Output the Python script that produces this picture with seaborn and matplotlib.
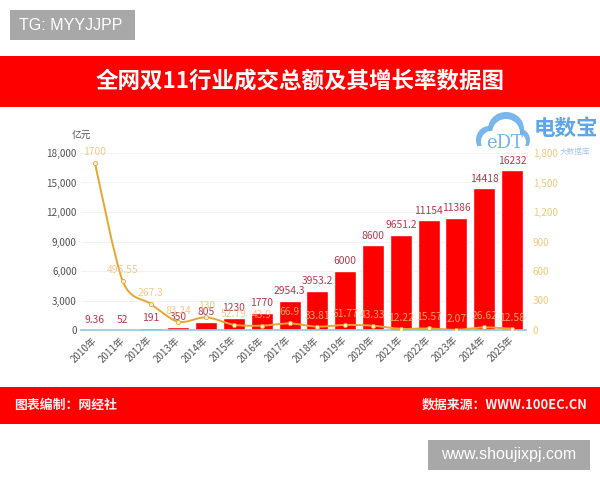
import numpy as np
import pandas as pd
import seaborn as sns
import matplotlib
matplotlib.use("Agg")
import matplotlib.pyplot as plt
from matplotlib.path import Path
from matplotlib.patches import PathPatch, Rectangle, Ellipse
from matplotlib.transforms import ScaledTranslation

years = ["2010年","2011年","2012年","2013年","2014年","2015年","2016年","2017年",
         "2018年","2019年","2020年","2021年","2022年","2023年","2024年","2025年"]
sales = [9.36,52,191,350,805,1230,1770,2954.3,3953.2,6000,8600,9651.2,11154,11386,14418,16232]
sales_labels = ["9.36","52","191","350","805","1230","1770","2954.3","3953.2","6000","8600","9651.2","11154","11386","14418","16232"]
growth = [1700,496.55,267.3,83.24,130,52.79,43.9,66.9,33.81,51.77,43.33,12.22,15.57,2.07,26.62,12.58]
growth_labels = ["1700","496.55","267.3","83.24","130","52.79","43.9","66.9","33.81","51.77","43.33","12.22","15.57","2.07","26.62","12.58"]
left_ticks = [0,3000,6000,9000,12000,15000,18000]
right_ticks = [0,300,600,900,1200,1500,1800]

sns.set_theme(style="white")
plt.rcParams['font.family'] = ['Noto Sans CJK SC', 'DejaVu Sans']
RED = "#FF0000"
fig = plt.figure(figsize=(6,4.8), dpi=100, facecolor="white")

# page furniture in pixel coordinates
bg = fig.add_axes([0,0,1,1]); bg.set_xlim(0,600); bg.set_ylim(480,0); bg.axis("off")
bg.add_patch(Rectangle((0,56),600,51,color=RED,lw=0))
bg.add_patch(Rectangle((0,387),600,37,color=RED,lw=0))
bg.add_patch(Rectangle((10,10),125,30,color="#A8A8A8",lw=0))
bg.add_patch(Rectangle((428,440),162,30,color="#A8A8A8",lw=0))
bg.text(19,25,"TG: MYYJJPP",color="white",fontsize=11.5,va="center",family="Liberation Sans")
bg.text(509,455,"www.shoujixpj.com",color="white",fontsize=11.5,va="center",ha="center",family="Liberation Sans")
bg.text(300.5,81,"全网双11行业成交总额及其增长率数据图",color="white",fontsize=16.2,fontweight="bold",ha="center",va="center")
bg.text(14,405,"图表编制\uff1a网经社",color="#FFF2F2",fontsize=9.3,fontweight="bold",va="center")
bg.text(588,405,"数据来源\uff1aWWW.100EC.CN",color="#FFF2F2",fontsize=9.3,fontweight="bold",va="center",ha="right")

# logo
BLUE = "#72B2EA"
for xy,w,h in [((489,140),26,28),((506,129),36,34),((520,140),20,22)]:
    bg.add_patch(Ellipse(xy,w,h,color=BLUE,lw=0,alpha=.95))
for xy,w,h in [((491,142),20,22),((506,133),28,28),((519,142),14,16)]:
    bg.add_patch(Ellipse(xy,w,h,color="white",lw=0))
bg.add_patch(Rectangle((478,146),52,9,color="white",lw=0))
bg.text(505,143,"eDT",color=BLUE,fontsize=13,ha="center",va="center",family="DejaVu Serif")
bg.text(534,128,"电数宝",color="#5FA6E8",fontsize=15.5,va="center",fontweight="bold")
bg.text(560,152,"大数据库",color="#A9C7E6",fontsize=5.5,va="center",ha="left")

# chart
ax = fig.add_axes([81/600,1-330/480,445/600,177/480]); ax.patch.set_alpha(0)
df = pd.DataFrame({"year":years,"sales":sales,"growth":growth})
sns.barplot(data=df,x="year",y="sales",color=RED,saturation=1,width=0.79,ax=ax,zorder=2)
ax.set_xlim(-0.5,15.5); ax.set_ylim(0,18000)
ax.set_yticks(left_ticks); ax.set_yticklabels([f"{v:,}" for v in left_ticks],fontsize=7.2,color="#555555")
ax.set_xticks(range(16)); ax.set_xticklabels(years,fontsize=7,color="#555555",rotation=45,ha="right",va="center",rotation_mode="anchor")
shift = ScaledTranslation(-2/72,0,fig.dpi_scale_trans)
for lab in ax.get_xticklabels():
    lab.set_transform(lab.get_transform()+shift)
ax.set_xlabel(""); ax.set_ylabel("")
ax.tick_params(axis="y",length=0,pad=3)
ax.tick_params(axis="x",length=0,pad=6)
ax.grid(axis="y",color="#F2F2F2",lw=.8); ax.set_axisbelow(True)
for s in ["top","right","left"]: ax.spines[s].set_visible(False)
ax.spines["bottom"].set_color("#8CC8E8"); ax.spines["bottom"].set_linewidth(1.2)
for i,(v,t) in enumerate(zip(sales,sales_labels)):
    ax.annotate(t,(i,v),xytext=(0,7),textcoords="offset points",ha="center",va="center",fontsize=7.4,color="#B23A50",zorder=5)

ax2 = ax.twinx(); ax2.patch.set_alpha(0)
ax2.set_ylim(0,1800); ax2.set_yticks(right_ticks)
ax2.set_yticklabels([f"{v:,}" for v in right_ticks],fontsize=7.2,color="#EBCB7A")
ax2.tick_params(axis="y",length=0,pad=5); ax2.grid(False)
for s in ax2.spines.values(): s.set_visible(False)

# smooth curve through the data values (rendered as Bezier segments)
xs = np.arange(len(growth),dtype=float); ys = np.array(growth,dtype=float)
k = 0.14
verts=[(xs[0],ys[0])]; codes=[Path.MOVETO]
for i in range(len(xs)-1):
    p0=np.array([xs[max(i-1,0)],ys[max(i-1,0)]]); p1=np.array([xs[i],ys[i]])
    p2=np.array([xs[i+1],ys[i+1]]); p3=np.array([xs[min(i+2,len(xs)-1)],ys[min(i+2,len(xs)-1)]])
    verts += [tuple(p1+(p2-p0)*k),tuple(p2-(p3-p1)*k),tuple(p2)]
    codes += [Path.CURVE4]*3
ax2.add_patch(PathPatch(Path(verts,codes),fill=False,edgecolor="#E8A52F",lw=1.4,zorder=4))
sns.lineplot(x=xs,y=ys,sort=False,lw=0,marker="o",markersize=3,markerfacecolor="#FFF3DC",
             markeredgecolor="#E8A52F",markeredgewidth=.6,ax=ax2,zorder=5,errorbar=None)
ax2.set_xlim(-0.5,15.5); ax2.set_ylim(0,1800)
for i,(v,t) in enumerate(zip(growth,growth_labels)):
    ax2.annotate(t,(i,v),xytext=(0,8),textcoords="offset points",ha="center",va="center",fontsize=7.4,color="#EFC078",alpha=.85,zorder=6)

bg.text(81,136,"亿元",fontsize=7,color="#555555",ha="center",va="center")
fig.savefig("out.png",dpi=100,facecolor="white")
